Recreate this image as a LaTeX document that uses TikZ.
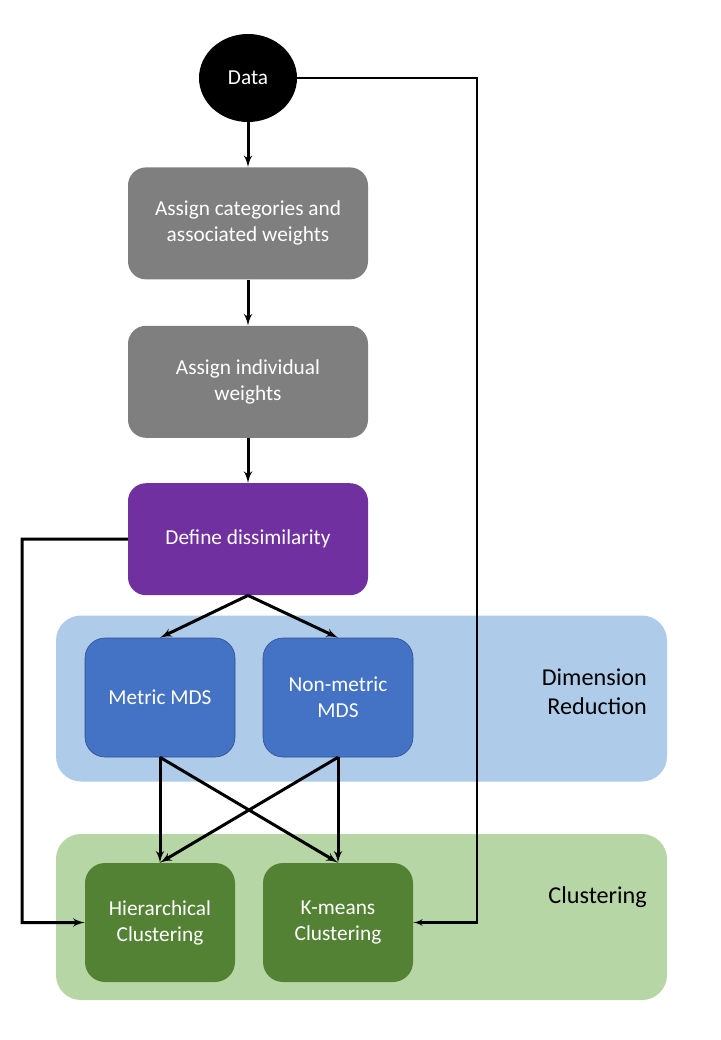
\documentclass[tikz,border=0pt]{standalone}
\usepackage{fontspec}
\setmainfont{Carlito}
\usetikzlibrary{shapes,arrows,positioning,calc}

\definecolor{stepgray}{HTML}{7F7F7F}
\definecolor{dissimpurple}{HTML}{7030A0}
\definecolor{mdsblue}{HTML}{4472C4}
\definecolor{mdsborder}{HTML}{2F528F}
\definecolor{clustgreen}{HTML}{548235}
\definecolor{reducpanel}{RGB}{174,204,233}
\definecolor{clustpanel}{RGB}{183,214,166}

\begin{document}
\begin{tikzpicture}[
    x=1pt, y=-1pt,
    block/.style={rectangle, rounded corners=18pt, fill=stepgray, text=white, align=center, minimum width=240pt, minimum height=112pt, font=\fontsize{21.3}{26}\selectfont},
    method/.style={rectangle, rounded corners=20pt, draw=mdsborder, line width=0.6pt, fill=mdsblue, text=white, align=center, minimum width=150pt, minimum height=119pt, font=\fontsize{21.3}{26}\selectfont},
    panel/.style={rectangle, rounded corners=25pt, minimum width=611pt, minimum height=166pt},
    paneltext/.style={anchor=east, align=right, inner sep=0pt, font=\fontsize{24.2}{29}\selectfont},
    line/.style={draw, -latex', line width=3pt},
    node distance=45pt
]
\useasboundingbox (0,0) rectangle (720,1040);

% Panels
\node[panel, fill=reducpanel] (reduction) at (361.5,698.5) {};
\node[panel, fill=clustpanel] (clustering) at (361.5,917) {};
\node[paneltext] (reductionlabel) at (647,692) {Dimension\\Reduction};
\node[paneltext] (clusteringlabel) at (647,897) {Clustering};

% Nodes
\node[ellipse, fill=black, text=white, minimum width=98pt, minimum height=88pt, inner sep=0pt, font=\fontsize{21.3}{26}\selectfont] (data) at (248,78) {Data};
\node[block, below=45pt of data] (categories) {Assign categories and\\associated weights};
\node[block, below=46pt of categories] (individual) {Assign individual\\weights};
\node[block, fill=dissimpurple, below=45pt of individual] (dissim) {Define dissimilarity};
\node[method] (metric) at (160,697.5) {Metric MDS};
\node[method] (nonmetric) at (338,697.5) {Non-metric\\MDS};
\node[method, draw=none, fill=clustgreen] (hier) at (160,922.5) {Hierarchical\\Clustering};
\node[method, draw=none, fill=clustgreen] (kmeans) at (338,922.5) {K-means\\Clustering};

% Lines
\draw[line] (data) -- (categories);
\draw[line] (categories) -- (individual);
\draw[line] (individual) -- (dissim);
\draw[line] (dissim.south) -- (metric.north);
\draw[line] (dissim.south) -- (nonmetric.north);
\draw[line] (metric.south) -- (hier.north);
\draw[line] (metric.south) -- (kmeans.north);
\draw[line] (nonmetric.south) -- (hier.north);
\draw[line] (nonmetric.south) -- (kmeans.north);

% Bypass lines
\coordinate (leftrail) at (22,539);
\coordinate (rightrail) at (477,78);
\draw[line] (dissim.west) -- (leftrail) |- (hier.west);
\draw[line, line width=2.2pt] (data.east) -- (rightrail) |- (kmeans.east);

\end{tikzpicture}
\end{document}
